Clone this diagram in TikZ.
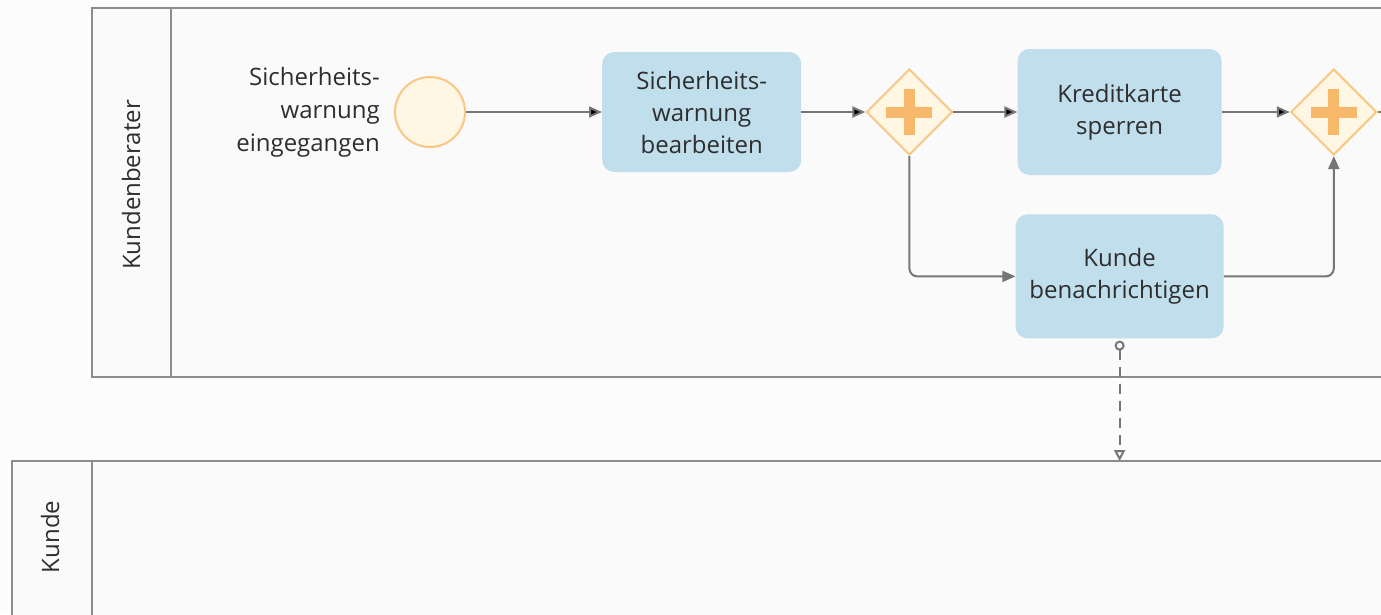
\documentclass[tikz,border=0pt]{standalone}
\usepackage{fontspec}
\setmainfont{Open Sans}
\usepackage{tikz}
\usetikzlibrary{positioning,arrows.meta,shapes.geometric}

\definecolor{taskfill}{HTML}{C0DEEC}
\definecolor{txtgray}{HTML}{2E2E2E}
\definecolor{flowgray}{HTML}{767676}
\definecolor{poolgray}{HTML}{8C8C8C}
\definecolor{gwline}{HTML}{F9C784}
\definecolor{gwfill}{HTML}{FFF7E4}
\definecolor{gwplus}{HTML}{F8B86B}

\tikzset{
  task/.style={rectangle,rounded corners=12pt,fill=taskfill,align=center,
    text=txtgray,font=\fontsize{24}{32}\selectfont},
  event/.style={circle,minimum size=70pt,draw=gwline,fill=gwfill,line width=2pt},
  gateway/.style={diamond,minimum width=86pt,minimum height=86pt,inner sep=0pt,
    draw=gwline,fill=gwfill,line width=2pt,
    path picture={
      \fill[gwplus] ([xshift=-23pt,yshift=-5.5pt]path picture bounding box.center) rectangle ++(46pt,11pt);
      \fill[gwplus] ([xshift=-5.5pt,yshift=-23pt]path picture bounding box.center) rectangle ++(11pt,46pt);
    }},
  flow/.style={draw=flowgray,line width=2pt,-{Triangle[length=13pt,width=11pt]}},
  pool/.style={draw=poolgray,line width=2pt,fill=white!98!black},
  lane/.style={rotate=90,text=txtgray,font=\fontsize{24}{30}\selectfont}
}

\begin{document}
\begin{tikzpicture}[x=1pt,y=-1pt]
        \useasboundingbox (0,0) rectangle (1381,614);
        \fill[white!99!black] (0,0) rectangle (1381,614);
        % pools
        \draw[pool] (92,8) rectangle (1400,377);
        \draw[pool] (171,8) -- (171,377);
        \draw[pool] (12,461) rectangle (1400,640);
        \draw[pool] (92,461) -- (92,640);
        \node[lane] (l_1) at (131,185) {Kundenberater};
        \node[lane] (l_2) at (50,537) {Kunde};
        % process
        \node[event] (start) at (430,112) {};
        \node[align=right,inner sep=0pt,text=txtgray,font=\fontsize{24}{33}\selectfont]
          (start_lbl) [left=14pt of start] {Sicherheits-\\warnung\\eingegangen};
        \node[task,minimum width=199pt,minimum height=120pt] (t_1) [right=136pt of start] {Sicherheits-\\warnung\\bearbeiten};
        \node[gateway] (g_1) [right=64pt of t_1] {};
        \node[task,minimum width=204pt,minimum height=126pt] (t_2) [right=64pt of g_1] {Kreditkarte\\sperren};
        \node[gateway] (g_2) [right=68pt of t_2] {};
        \node[task,minimum width=208pt,minimum height=124pt] (t_3) [below=39pt of t_2] {Kunde\\benachrichtigen};
        \coordinate (out) at (1400,112);
        \coordinate (msg) at (t_3.south |- 0,461);
          \path[flow]
            (start) edge (t_1)
            (t_1) edge (g_1)
            (g_1) edge (t_2)
            (t_2) edge (g_2);
          \draw[flow,rounded corners=8pt] (g_1.south) |- (t_3.west);
          \draw[flow,rounded corners=8pt] (t_3.east) -| (g_2.south);
          \draw[draw=flowgray,line width=2pt] (g_2.east) -- (out);
          \draw[draw=flowgray,line width=2pt,dash pattern=on 10pt off 7pt,
            {Circle[open,length=10pt,width=10pt,sep=2pt]}-{Triangle[open,length=11pt,width=11pt]}] (t_3.south) -- (msg);
    \end{tikzpicture}
\end{document}
